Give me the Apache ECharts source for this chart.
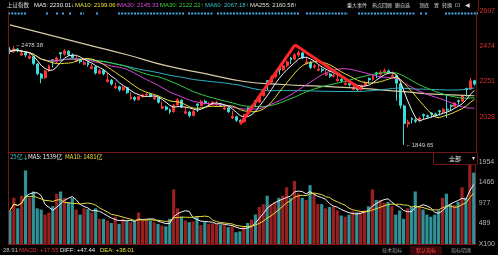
<!DOCTYPE html>
<html>
<head>
<meta charset="utf-8">
<script src="https://cdn.jsdelivr.net/npm/echarts@6/dist/echarts.min.js"></script>
<style>
* { margin: 0; padding: 0; }
html, body { background: #000; }
</style>
</head>
<body>
<div id="main" style="width:498px;height:255px;"></div>
<script>
// 日K: [开, 收, 低, 高]
var candles = [
  [2452,2440,2425,2468],[2438,2458,2432,2478.38],[2456,2445,2436,2462],[2418,2430,2412,2452],[2432,2418,2405,2440],
  [2398,2410,2392,2428],[2408,2365,2355,2412],[2362,2300,2290,2368],[2298,2272,2240,2305],[2275,2318,2268,2325],
  [2320,2350,2312,2358],[2388,2378,2340,2392],[2376,2400,2368,2408],[2434,2425,2395,2438],[2424,2445,2415,2456],
  [2443,2420,2412,2450],[2418,2402,2395,2428],[2380,2390,2374,2412],[2388,2376,2365,2396],[2360,2370,2354,2385],
  [2372,2356,2345,2378],[2334,2345,2328,2362],[2343,2305,2295,2348],[2302,2320,2296,2330],[2322,2300,2290,2328],
  [2250,2262,2244,2304],[2260,2235,2226,2266],[2210,2220,2204,2245],[2218,2200,2188,2225],[2198,2215,2192,2224],
  [2212,2180,2172,2218],[2142,2152,2136,2184],[2150,2138,2126,2158],[2136,2155,2130,2162],[2156,2166,2148,2175],
  [2165,2170,2155,2180],[2172,2158,2150,2178],[2140,2150,2134,2164],[2148,2120,2112,2152],[2082,2092,2076,2124],
  [2090,2075,2066,2098],[2072,2058,2046,2080],[2060,2100,2055,2108],[2102,2135,2098,2146],[2132,2090,2082,2138],
  [2050,2060,2044,2094],[2058,2035,2025,2064],[2036,2062,2030,2070],[2108,2100,2058,2112],[2098,2125,2094,2134],
  [2126,2115,2106,2136],[2098,2106,2092,2122],[2105,2120,2100,2128],[2102,2110,2096,2130],[2108,2100,2090,2116],
  [2076,2085,2070,2104],[2084,2060,2052,2090],[2020,2030,2014,2064],[2028,2006,1996,2034],[2004,1995,1980,2012],
  [1996,2040,1990,2046],[2084,2075,2036,2088],[2076,2095,2068,2104],[2130,2120,2088,2134],[2122,2160,2115,2168],
  [2162,2200,2155,2208],[2256,2245,2196,2260],[2246,2280,2238,2290],[2282,2305,2272,2316],[2336,2325,2295,2340],
  [2326,2350,2318,2360],[2352,2375,2340,2384],[2400,2390,2362,2406],[2392,2420,2385,2430],[2418,2435,2405,2446],
  [2432,2400,2392,2440],[2366,2375,2358,2408],[2372,2340,2330,2380],[2342,2350,2332,2362],[2322,2330,2316,2356],
  [2328,2320,2308,2340],[2292,2300,2286,2326],[2298,2285,2274,2306],[2284,2290,2276,2300],[2256,2265,2250,2294],
  [2264,2255,2245,2272],[2232,2240,2226,2262],[2238,2230,2218,2246],[2202,2210,2196,2234],[2208,2200,2190,2216],
  [2202,2225,2196,2232],[2226,2245,2218,2252],[2270,2262,2236,2276],[2264,2282,2255,2292],[2306,2298,2272,2312],
  [2296,2310,2288,2322],[2312,2320,2300,2334],[2318,2310,2298,2326],[2282,2290,2276,2314],[2288,2240,2130,2292],
  [2236,2100,2080,2240],[2096,1985,1849.65,2104],[1982,1995,1960,2010],[2018,2010,1985,2024],[2008,2000,1988,2018],
  [2002,2020,1994,2028],[2042,2035,2010,2048],[2034,2030,2018,2042],[2052,2045,2022,2056],[2046,2040,2030,2054],
  [2066,2060,2036,2070],[2058,2075,2050,2082],[2076,2070,2020,2170],[2100,2095,2066,2106],[2094,2115,2088,2122],
  [2130,2125,2105,2136],[2126,2160,2120,2168],[2206,2200,2155,2212],[2202,2255,2196,2275],[2256,2235,2225,2262]
];

// 成交量 (x100)
var volumes = [
  800,1100,850,1150,1750,1100,1250,850,820,700,
  750,900,1200,1250,1100,1000,1100,820,700,850,
  830,750,850,600,600,560,500,650,480,600,
  550,520,540,750,560,580,560,520,480,440,
  420,600,1300,850,650,560,520,540,650,450,
  520,480,490,470,460,450,400,420,280,300,
  420,500,580,700,880,950,1150,950,1000,1100,
  1150,1350,1100,1500,1200,1100,1050,1400,1180,950,
  950,850,880,900,800,680,650,700,780,760,
  760,800,900,1300,1050,1050,980,1000,900,700,
  800,600,850,880,1250,880,820,700,650,700,
  800,1100,1200,950,930,1000,1350,1100,1950,1700
];

// MA255 读数 (按K线序号取点)
var ma255Index = [0, 10, 20, 30, 40, 50, 60, 70, 80, 90, 100, 110, 119];
var ma255Value = [2609, 2546, 2483, 2420, 2351, 2301, 2251, 2232, 2220, 2207, 2188, 2169, 2161];

var priceTicks = { min: 1805, max: 2697, interval: 223 };
var volTicks = { min: 0, max: 2191, interval: 488.5 };

// 画线: [序号, 价格]
var drawLine = [[59, 1981], [73, 2483], [90, 2200]];

var categories = candles.map(function (c, i) { return String(i + 1); });
var closes = candles.map(function (c) { return c[1]; });

function calcMA(n, arr) {
  return arr.map(function (v, i) {
    var s = Math.max(0, i - n + 1), sum = 0;
    for (var j = s; j <= i; j++) sum += arr[j];
    return +(sum / (i - s + 1)).toFixed(2);
  });
}

var ma255 = categories.map(function () { return null; });
ma255Index.forEach(function (idx, k) { ma255[idx] = ma255Value[k]; });

var UP = '#ff3434', DOWN = '#3cdcdc';
var VUP = '#9a2020', VDOWN = '#2f9296';
var CN = '"Noto Sans CJK SC", sans-serif';
var EN = '"Liberation Sans", Arial, sans-serif';

function txt(text, x, y, color, size, family, align) {
  return {
    type: 'text', silent: true, z: 100,
    style: { text: text, x: x, y: y, fill: color, font: size + 'px ' + family, align: align || 'left', verticalAlign: 'middle' }
  };
}
function seg(x1, y1, x2, y2, color, w, dash) {
  return {
    type: 'line', silent: true, z: 90,
    shape: { x1: x1, y1: y1, x2: x2, y2: y2 },
    style: { stroke: color, lineWidth: w || 1, lineDash: dash || null }
  };
}

// 顶部事件点线
var eventSegs = [[8,27],[46,49],[56,59],[62,65],[69,72],[80,84],[96,99],[118,185],[188,213],[217,300],[306,348],[358,415],[420,423],[425,428],[445,478]];

var graphics = [];
eventSegs.forEach(function (s) { graphics.push(seg(s[0], 13.5, s[1], 13.5, '#46a8e6', 2, [2, 1.2])); });
graphics.push(seg(8.5, 11, 8.5, 245, '#7a1616', 1));
graphics.push(seg(478.5, 0, 478.5, 11, '#7a1616', 1));
graphics.push(
  txt('上证指数', 7, 5, '#dcdcdc', 5.5, CN),
  txt('MA5: 2230.01↓', 34, 5, '#eeeeee', 6, EN),
  txt('MA10: 2199.06↑', 75, 5, '#e8e03c', 6, EN),
  txt('MA20: 2145.33↑', 118, 5, '#e24ce2', 6, EN),
  txt('MA30: 2122.22↑', 160, 5, '#3ed23e', 6, EN),
  txt('MA60: 2067.18↑', 205, 5, '#38c0cc', 6, EN),
  txt('MA255: 2160.58↑', 250, 5, '#e0dcd0', 6, EN),
  txt('重大事件', 347, 5, '#dcdcdc', 5, CN),
  txt('热点回顾', 372, 5, '#dcdcdc', 5, CN),
  txt('删自选', 395, 5, '#dcdcdc', 5, CN),
  txt('顶底', 419, 5, '#dcdcdc', 5, CN),
  txt('置', 434, 5, '#dcdcdc', 5, CN),
  txt('转换', 442, 5, '#dcdcdc', 5, CN),
  txt('⊡', 455, 5, '#dcdcdc', 6, EN),
  txt('◀', 465, 5, '#dcdcdc', 6, EN),
  // 成交量标题
  txt('25亿↓', 10, 157, '#40c8c8', 6, CN),
  txt('MA5: 1539亿', 28, 157, '#eeeeee', 6, CN),
  txt('MA10: 1481亿', 65, 157, '#e8e03c', 6, CN),
  {
    type: 'rect', silent: true, z: 95,
    shape: { x: 433.5, y: 152.5, width: 44, height: 12 },
    style: { fill: '#000', stroke: '#6e1414', lineWidth: 1 }
  },
  txt('全部', 449, 158.5, '#e6e6e6', 6, CN),
  txt('▾', 472, 158.5, '#e6e6e6', 6, EN),
  // 底部指标
  txt('28.91', 3, 250.5, '#bdbdbd', 6, EN),
  txt('MACD: +17.55', 19, 250.5, '#e03a3a', 6, EN),
  txt('DIFF: +47.44', 60, 250.5, '#e6e6e6', 6, EN),
  txt('DEA: +38.01', 100, 250.5, '#e8e03c', 6, EN),
  {
    type: 'rect', silent: true, z: 95,
    shape: { x: 410, y: 246, width: 32, height: 9 },
    style: { fill: '#3a0808' }
  },
  txt('技术指标', 382, 250.5, '#9a9a9a', 5, CN),
  txt('默认指标', 416, 250.5, '#ff4040', 5, CN),
  txt('指标切换', 451, 250.5, '#9a9a9a', 5, CN)
);

var chart = echarts.init(document.getElementById('main'));
chart.setOption({
  backgroundColor: '#000',
  animation: false,
  textStyle: { fontFamily: EN },
  grid: [
    { left: 8, right: 20, top: 11, height: 141 },
    { left: 8, right: 20, top: 152, height: 92 }
  ],
  xAxis: [
    {
      type: 'category', gridIndex: 0, data: categories, boundaryGap: true,
      axisLine: { show: true, lineStyle: { color: '#7a1616', width: 1 } },
      axisTick: { show: false }, axisLabel: { show: false }, splitLine: { show: false }
    },
    {
      type: 'category', gridIndex: 1, data: categories, boundaryGap: true,
      axisLine: { show: true, lineStyle: { color: '#7a1616', width: 1 } },
      axisTick: { show: false }, axisLabel: { show: false }, splitLine: { show: false }
    }
  ],
  yAxis: [
    {
      type: 'value', gridIndex: 0, position: 'right',
      min: priceTicks.min, max: priceTicks.max, interval: priceTicks.interval,
      axisLine: { show: true, lineStyle: { color: '#7a1616' } },
      axisTick: { show: false }, splitLine: { show: false },
      axisLabel: { color: '#d23232', fontSize: 7, margin: 3, showMinLabel: false, formatter: function (v) { return String(v); } }
    },
    {
      type: 'value', gridIndex: 1, position: 'right',
      min: volTicks.min, max: volTicks.max, interval: volTicks.interval,
      axisLine: { show: true, lineStyle: { color: '#7a1616' } },
      axisTick: { show: false }, splitLine: { show: false },
      axisLabel: {
        color: '#b4b4b4', fontSize: 7, margin: 3, showMaxLabel: false,
        formatter: function (v) { return v === 0 ? 'X100' : String(Math.round(v)); }
      }
    }
  ],
  series: [
    {
      name: '上证指数', type: 'candlestick', xAxisIndex: 0, yAxisIndex: 0,
      data: candles, barWidth: '62%',
      itemStyle: { color: UP, color0: DOWN, borderColor: UP, borderColor0: DOWN, borderWidth: 1 },
      markPoint: {
        symbol: 'circle', symbolSize: 1, silent: true,
        itemStyle: { color: 'rgba(0,0,0,0)' },
        label: { show: true, position: 'right', distance: 1, color: '#cfcfcf', fontSize: 6, formatter: function (p) { return '←' + p.value; } },
        data: [
          { coord: [1, 2478.38], value: '2478.38' },
          { coord: [101, 1849.65], value: '1849.65' }
        ]
      },
      markLine: {
        symbol: ['none', 'none'], silent: true, label: { show: false },
        lineStyle: { color: '#ff2626', width: 3, type: 'solid' },
        data: [
          [{ coord: drawLine[0] }, { coord: drawLine[1] }],
          [{ coord: drawLine[1] }, { coord: drawLine[2] }]
        ]
      }
    },
    { name: 'MA255', type: 'line', data: ma255, connectNulls: true, smooth: true, showSymbol: false, lineStyle: { color: '#d6cba6', width: 1.2 }, z: 3 },
    { name: 'MA60', type: 'line', data: calcMA(60, closes), showSymbol: false, lineStyle: { color: '#2fb4c4', width: 1 }, z: 3 },
    { name: 'MA30', type: 'line', data: calcMA(30, closes), showSymbol: false, lineStyle: { color: '#36cc44', width: 1 }, z: 3 },
    { name: 'MA20', type: 'line', data: calcMA(20, closes), showSymbol: false, lineStyle: { color: '#d844d8', width: 1 }, z: 3 },
    { name: 'MA10', type: 'line', data: calcMA(10, closes), showSymbol: false, lineStyle: { color: '#e6dc3a', width: 1 }, z: 3 },
    { name: 'MA5', type: 'line', data: calcMA(5, closes), showSymbol: false, lineStyle: { color: '#f2f2f2', width: 1 }, z: 3 },
    {
      name: '成交量', type: 'bar', xAxisIndex: 1, yAxisIndex: 1, barCategoryGap: '18%',
      data: volumes.map(function (v, i) {
        return { value: v, itemStyle: { color: candles[i][1] >= candles[i][0] ? VUP : VDOWN } };
      })
    },
    { name: 'VMA5', type: 'line', xAxisIndex: 1, yAxisIndex: 1, data: calcMA(5, volumes), showSymbol: false, lineStyle: { color: '#f2f2f2', width: 1 }, z: 3 },
    { name: 'VMA10', type: 'line', xAxisIndex: 1, yAxisIndex: 1, data: calcMA(10, volumes), showSymbol: false, lineStyle: { color: '#e6dc3a', width: 1 }, z: 3 }
  ],
  graphic: graphics
});
</script>
</body>
</html>
